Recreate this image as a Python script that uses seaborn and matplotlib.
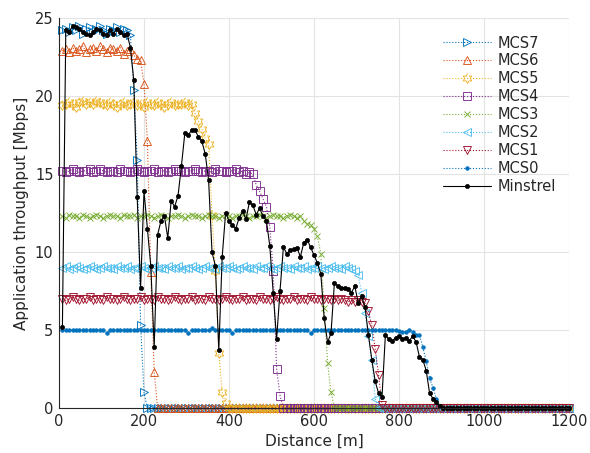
import numpy as np
import matplotlib
matplotlib.use("Agg")
import matplotlib.pyplot as plt
import seaborn as sns

# distance grid [m]
distance = np.arange(8, 1201, 8)

# throughput [Mbps], the tail after the drop is 0
mcs7 = [24.2, 24.3, 24.1, 24.4, 24.2, 24.5, 24.0, 24.3, 24.4, 24.1,
        24.3, 24.5, 24.2, 24.0, 24.3, 24.2, 24.4, 24.1, 24.3, 24.2,
        23.9, 20.4, 15.9, 5.3, 1.0]
mcs6 = [22.9, 23.0, 22.8, 23.1, 22.9, 23.0, 23.2, 22.8, 23.0, 23.1,
        22.9, 23.2, 23.0, 22.8, 23.1, 23.0, 22.9, 23.1, 22.7, 22.9,
        23.0, 22.6, 22.4, 22.3, 20.8, 17.1, 8.7, 2.3]
mcs5 = [19.4, 19.5, 19.6, 19.5, 19.3, 19.6, 19.7, 19.5, 19.6, 19.5,
        19.7, 19.6, 19.5, 19.4, 19.6, 19.5, 19.3, 19.5, 19.6, 19.4,
        19.5, 19.6, 19.4, 19.5, 19.3, 19.6, 19.5, 19.4, 19.6, 19.5,
        19.3, 19.5, 19.6, 19.4, 19.5, 19.5, 19.6, 19.4, 19.5,
        18.9, 18.4, 17.9, 17.3, 16.9, 12.4, 8.8, 3.5, 1.0, 0.3]
mcs4 = [15.2, 15.1, 15.2, 15.3, 15.2, 15.1, 15.2, 15.2, 15.3, 15.1,
        15.2, 15.3, 15.2, 15.1, 15.2, 15.2, 15.1, 15.3, 15.2, 15.2,
        15.1, 15.2, 15.3, 15.2, 15.1, 15.2, 15.2, 15.3, 15.1, 15.2,
        15.2, 15.1, 15.2, 15.3, 15.2, 15.2, 15.1, 15.2, 15.2, 15.3,
        15.2, 15.1, 15.2, 15.2, 15.1, 15.3, 15.2, 15.2, 15.1, 15.2,
        15.2, 15.3, 15.1, 15.2, 15.0, 15.1, 15.0,
        14.3, 13.9, 13.4, 12.9, 11.6, 8.8, 2.5, 0.8]
mcs3 = [12.3, 12.2, 12.4, 12.3, 12.3, 12.2, 12.4, 12.3, 12.2, 12.3,
        12.4, 12.3, 12.2, 12.3, 12.4, 12.3, 12.3, 12.2, 12.4, 12.3,
        12.3, 12.4, 12.2, 12.3, 12.3, 12.4, 12.3, 12.2, 12.3, 12.4,
        12.3, 12.2, 12.3, 12.3, 12.4, 12.3, 12.2, 12.3, 12.4, 12.3,
        12.3, 12.2, 12.3, 12.4, 12.3, 12.3, 12.2, 12.3, 12.4, 12.3,
        12.2, 12.3, 12.3, 12.4, 12.3, 12.2, 12.3, 12.3, 12.4, 12.3,
        12.2, 12.3, 12.4, 12.3, 12.3, 12.2, 12.3, 12.4, 12.3, 12.2,
        12.3,
        12.0, 11.8, 11.7, 11.5, 11.0, 9.9, 6.4, 2.9, 1.0]
mcs2 = [9.0, 9.1, 8.9, 9.0, 9.1, 9.0, 8.9, 9.0, 9.1, 9.0,
        8.9, 9.0, 9.1, 9.0, 9.0, 8.9, 9.1, 9.0, 9.0, 9.1,
        8.9, 9.0, 9.0, 9.1, 9.0, 8.9, 9.0, 9.1, 9.0, 9.0,
        8.9, 9.1, 9.0, 9.0, 9.1, 8.9, 9.0, 9.0, 9.1, 9.0,
        8.9, 9.0, 9.1, 9.0, 9.0, 8.9, 9.1, 9.0, 9.0, 9.1,
        9.0, 8.9, 9.0, 9.1, 9.0, 9.0, 8.9, 9.1, 9.0, 9.0,
        9.1, 9.0, 8.9, 9.0, 9.1, 9.0, 9.0, 8.9, 9.1, 9.0,
        9.0, 9.1, 8.9, 9.0, 9.0, 9.1, 9.0, 8.9, 9.0, 9.1,
        9.0, 9.0, 8.9, 9.1, 9.0, 8.9, 8.8,
        8.5, 7.4, 6.1, 4.6, 3.1, 0.6]
mcs1 = [7.0, 6.9, 7.0, 7.1, 7.0, 6.9, 7.0, 7.0, 7.1, 6.9,
        7.0, 7.0, 6.9, 7.1, 7.0, 7.0, 6.9, 7.0, 7.1, 7.0,
        6.9, 7.0, 7.0, 7.1, 6.9, 7.0, 7.0, 6.9, 7.1, 7.0,
        7.0, 6.9, 7.0, 7.1, 7.0, 6.9, 7.0, 7.0, 7.1, 6.9,
        7.0, 7.0, 6.9, 7.1, 7.0, 7.0, 6.9, 7.0, 7.1, 7.0,
        6.9, 7.0, 7.0, 7.1, 6.9, 7.0, 7.0, 6.9, 7.1, 7.0,
        7.0, 6.9, 7.0, 7.1, 7.0, 6.9, 7.0, 7.0, 7.1, 6.9,
        7.0, 7.0, 6.9, 7.1, 7.0, 7.0, 6.9, 7.0, 7.0, 6.9,
        7.0, 6.9, 7.0, 6.9, 6.8, 6.9, 6.8, 6.9, 6.8,
        6.7, 6.2, 5.3, 3.8, 2.1, 0.2]
mcs0 = [5.0, 5.0, 5.0, 5.0, 5.0, 5.0, 5.0, 5.0, 5.0, 5.0,
        5.0, 5.0, 5.0, 4.8, 5.0, 5.0, 5.0, 5.0, 5.0, 5.0,
        5.0, 5.0, 5.0, 5.0, 5.0, 5.0, 5.0, 5.0, 5.0, 5.0,
        5.0, 5.0, 5.0, 5.0, 5.0, 5.0, 5.0, 4.8, 5.0, 5.0,
        5.0, 5.0, 5.0, 5.0, 5.1, 5.0, 5.0, 5.0, 5.0, 5.0,
        4.8, 5.0, 5.0, 5.0, 5.0, 5.0, 5.0, 5.0, 5.0, 5.0,
        5.0, 5.0, 5.0, 5.0, 5.0, 5.0, 5.0, 5.0, 5.0, 5.0,
        5.0, 5.0, 5.0, 4.8, 5.0, 5.0, 5.0, 5.0, 5.0, 5.0,
        5.0, 5.0, 5.0, 5.0, 5.0, 5.0, 5.0, 5.0, 5.0, 5.0,
        5.0, 5.0, 5.0, 5.0, 5.0, 5.0, 5.0, 5.0, 5.0,
        4.95, 4.85, 4.9, 5.0, 4.9, 4.7, 4.7, 3.9, 3.0, 1.9,
        1.3, 0.6, 0.1]
minstrel = [5.2, 24.2, 24.1, 24.5, 24.4, 24.3, 24.1, 24.0, 23.9, 24.1,
            24.3, 24.2, 24.0, 23.9, 24.2, 24.0, 24.3, 24.1, 23.9, 24.0,
            23.1, 21.0, 13.5, 7.7, 13.9, 11.5, 9.1, 3.9, 11.1, 12.0,
            12.3, 10.9, 13.3, 12.9, 13.6, 15.5, 17.6, 17.5, 17.8, 17.8,
            17.4, 17.1, 16.3, 14.6, 10.0, 9.1, 3.7, 9.7, 12.5, 12.0,
            11.7, 11.5, 12.2, 12.6, 12.1, 13.2, 13.0, 12.4, 12.8, 12.3,
            12.0, 10.4, 7.4, 4.4, 7.5, 10.3, 9.9, 10.1, 10.2, 10.25,
            9.7, 10.6, 10.8, 10.3, 9.8, 9.3, 8.6, 5.75, 4.2, 4.8,
            8.0, 7.8, 7.7, 7.7, 7.6, 7.4, 7.8, 6.75, 7.15, 6.5,
            4.7, 3.1, 1.7, 0.95, 0.7, 4.7, 4.4, 4.3, 4.5, 4.6,
            4.4, 4.5, 4.3, 4.6, 4.25, 3.3, 3.1, 2.4, 0.95, 0.6,
            0.4, 0.1]

labels = ["MCS7", "MCS6", "MCS5", "MCS4", "MCS3", "MCS2", "MCS1", "MCS0", "Minstrel"]


def pad(vals):
    return vals + [0.0] * (len(distance) - len(vals))


# six pointed star (matlab "hexagram")
ang = np.deg2rad(90 + 30 * np.arange(12))
rad = np.where(np.arange(12) % 2 == 0, 1.0, 0.58)
hexagram = list(zip(rad * np.cos(ang), rad * np.sin(ang)))

styles = [
    ("#0072BD", ">", 6, "none"),
    ("#D95319", "^", 6, "none"),
    ("#EDB120", hexagram, 7, "none"),
    ("#7E2F8E", "s", 6, "none"),
    ("#77AC30", "x", 5, "none"),
    ("#4DBEEE", "<", 6, "none"),
    ("#A2142F", "v", 6, "none"),
    ("#0072BD", ".", 5, "#0072BD"),
]

sns.set_style("whitegrid")
plt.rcParams["font.family"] = ["DejaVu Sans"]

fig, ax = plt.subplots(figsize=(5.9, 4.53), dpi=100)
fig.subplots_adjust(left=0.1, right=0.9644, bottom=0.0993, top=0.9603)

all_series = [mcs7, mcs6, mcs5, mcs4, mcs3, mcs2, mcs1, mcs0]
for vals, lab, (col, mk, ms, fc) in zip(all_series, labels[:-1], styles):
    sns.lineplot(x=distance, y=pad(vals), ax=ax, color=col, marker=mk,
                 markersize=ms, mfc=fc, mec=col, mew=0.65, linestyle=":",
                 lw=0.8, label=lab, clip_on=False, snap=False)

sns.lineplot(x=distance, y=pad(minstrel), ax=ax, color="black", marker=".",
             markersize=6, mfc="black", mec="black", mew=0.5, linestyle="-",
             lw=0.8, label=labels[-1], clip_on=False, snap=False)

ax.set_xlim(0, 1200)
ax.set_ylim(0, 25)
ax.set_xticks(range(0, 1201, 200))
ax.set_yticks(range(0, 26, 5))
ax.grid(color="#e3e3e3", lw=0.8)
for s in ["top", "right"]:
    ax.spines[s].set_visible(False)
for s in ["left", "bottom"]:
    ax.spines[s].set_color("#262626")
    ax.spines[s].set_linewidth(0.8)
ax.tick_params(labelsize=10.5, colors="#262626", length=0, pad=4)

ax.set_xlabel("Distance [m]", fontsize=11, color="#262626")
ax.set_ylabel("Application throughput [Mbps]", fontsize=11, color="#262626")

ax.legend(loc="upper right", bbox_to_anchor=(0.985, 0.97), frameon=False,
          handlelength=3.3, labelspacing=0.2, fontsize=10.5,
          borderaxespad=0, handletextpad=0.4)

plt.savefig("out.png", dpi=100)
